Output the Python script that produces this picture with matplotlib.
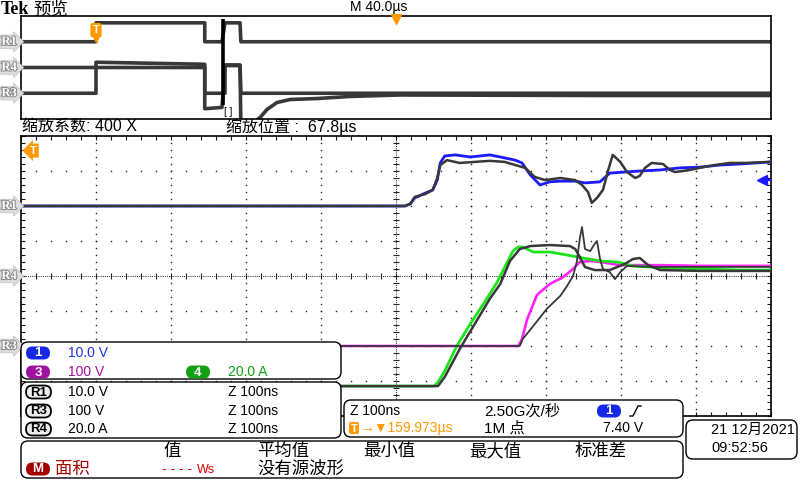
################################################ Import modules ########################################################

import numpy as np
import matplotlib
matplotlib.use('Agg')
import matplotlib.pyplot as plt
import matplotlib.patheffects as pe
import matplotlib.transforms as mtransforms
from matplotlib.patches import FancyBboxPatch

plt.rcParams['font.family'] = ['Liberation Sans', 'Noto Sans CJK SC', 'DejaVu Sans']

############################################### Scope settings #######################################

zoom_ns_div = 100        # Z 100ns
main_divs = 10
ov_us_div = 40.0         # M 40.0us
ch1_scale = 10.0         # V/div
ch3_scale = 100.0        # V/div
ch4_scale = 20.0         # A/div
pos_r1, pos_r4, pos_r3 = 2.0, 0.0, -2.0   # trace offsets in divisions
trig_level = 7.40        # V on ch1
trig_pos_us = 40.0       # trigger point from left edge of record
zoom_pos_us = 67.8
trig_time = '159.973µs'

##################################################### Zoom window data #################################################
# time in ns from the left edge of the zoom window

ch1_t = [0, 512, 519, 525, 539, 549, 555, 559, 565, 579, 599, 612, 625, 639, 659, 668, 679, 692, 705, 719,
         739, 752, 772, 785, 805, 825, 852, 879, 905, 932, 959, 1000]
ch1_v = [0.0, 0.0, 0.6, 2.3, 3.7, 4.6, 7.4, 12.3, 14.3, 14.6, 14.0, 14.3, 14.6, 14.0, 13.1, 12.3, 8.9, 6.0, 6.9, 7.1,
         7.1, 6.6, 6.9, 9.4, 9.7, 10.0, 10.3, 10.9, 11.1, 11.7, 12.0, 12.6]

r1_t = [0, 512, 519, 525, 539, 549, 555, 559, 568, 585, 605, 625, 645, 659, 672, 685, 699, 719, 739, 748,
        756, 761, 768, 776, 783, 789, 799, 808, 819, 825, 832, 841, 856, 865, 872, 892, 905, 925, 945, 965, 1000]
r1_v = [0.0, 0.0, 0.6, 2.6, 3.4, 4.6, 8.0, 11.7, 13.1, 12.3, 12.6, 12.9, 12.6, 11.7, 10.9, 8.3, 7.4, 8.0, 7.4, 6.0,
        4.0, 0.9, 2.3, 4.6, 10.3, 14.6, 12.6, 9.7, 8.0, 8.6, 10.9, 12.3, 12.0, 10.3, 9.7, 10.3, 10.9, 11.7, 12.3,
        12.3, 12.6]

ch3_t = [0, 663, 668, 675, 688, 705, 723, 736, 745, 759, 772, 799, 852, 905, 1000]
ch3_v = [0, 0, 20, 77, 146, 177, 197, 220, 240, 243, 240, 231, 231, 229, 229]

r3_t = [0, 665, 669, 683, 701, 719, 728, 736, 741, 745, 748, 752, 759, 764, 768, 772, 776, 785, 792, 799,
        808, 839, 1000]
r3_v = [0, 0, 20, 57, 106, 143, 171, 200, 240, 306, 340, 277, 271, 289, 300, 249, 220, 211, 191, 211,
        229, 226, 226]

ch4_t = [0, 551, 556, 565, 581, 599, 612, 625, 635, 645, 656, 663, 669, 683, 705, 728, 749, 772, 795, 816,
         839, 861, 905, 959, 1000]
ch4_a = [-62.9, -62.9, -60.6, -54.3, -40.0, -27.4, -18.9, -10.3, -3.4, 5.1, 14.3, 16.6, 16.6, 13.7, 13.7, 12.0,
         10.3, 8.6, 8.0, 5.7, 5.1, 4.0, 4.0, 3.4, 3.4]

r4_t = [0, 556, 565, 585, 605, 625, 639, 652, 665, 679, 705, 732, 739, 745, 752, 765, 785, 805, 816, 825,
        836, 852, 905, 1000]
r4_a = [-62.9, -62.9, -57.7, -41.7, -27.4, -13.1, -4.6, 8.6, 15.4, 17.1, 17.7, 17.1, 15.4, 10.9, 5.1, 3.4,
        3.4, 6.9, 9.7, 10.3, 6.3, 3.4, 2.9, 2.9]

##################################################### Overview (preview) data ##########################################
# time in us from the left edge of the record

ov_r1_t = [0, 40, 40, 98, 98, 107.2, 108.8, 116.8, 117.3, 400]
ov_r1_v = [0, 0, 14.7, 14.7, 0, 0, 14.7, 14.7, 0, 0]

ov_r3_t = [0, 40, 40, 98, 98, 108.8, 108.8, 116.8, 117.3, 400]
ov_r3_v = [0, 0, 241, 225, 0, 0, 220, 220, 0, 0]

ov_r4_t = [0, 98, 98, 107.2, 108.8, 116.8, 117.3, 127.5, 131.2, 136.5, 143.5, 157.9, 175.5, 202, 309, 400]
ov_r4_a = [0, 0, -64, -62, 3, 3, -100, -77.7, -65.2, -54.4, -49.7, -48.2, -45, -42.7, -43.5, -43.5]

###################################################### Colours #########################################################

c_ref = '#383838'
c_ch1, c_ch3, c_ch4 = '#1a1aff', '#ff22ff', '#1be41b'
p_ch1, p_ch3, p_ch4, p_m = '#1428e6', '#a212a2', '#12a012', '#a50000'
t_ch1, t_ch3, t_ch4 = '#1e32e6', '#a012a0', '#14a014'
orange = '#ff9900'

###################################################### Figure ##########################################################

W, H = 800, 480
fig = plt.figure(figsize=(8, 4.8), dpi=100, facecolor='white')


def fig_rect(x0, y0, x1, y1):
    return [x0 / W, 1 - y1 / H, (x1 - x0) / W, (y1 - y0) / H]


def div(vals, scale, pos):
    return np.asarray(vals, dtype=float) / scale + pos


ax = fig.add_axes(fig_rect(21, 136, 771, 416))
ov = fig.add_axes(fig_rect(21, 16, 771, 119))
top = fig.add_axes([0, 0, 1, 1])
top.set_xlim(0, W)
top.set_ylim(H, 0)
top.axis('off')
top.set_zorder(5)

################################################### Main graticule #####################################################

span = main_divs * zoom_ns_div
ax.set_xlim(0, span)
ax.set_ylim(-4, 4)
ax.set_xticks(np.arange(0, span + 1, zoom_ns_div))
ax.set_xticks(np.arange(0, span + 1, zoom_ns_div / 5), minor=True)
ax.set_yticks(np.arange(-4, 4.01, 1))
ax.set_yticks(np.arange(-4, 4.01, 0.2), minor=True)
ax.tick_params(which='both', direction='in', length=3, width=0.8, top=True, right=True,
               labelbottom=False, labelleft=False, color='#111111')
for sp in ax.spines.values():
    sp.set_linewidth(1.2)

ys_minor = np.arange(-4, 4.01, 0.2)
xs_minor = np.arange(0, span + 1, zoom_ns_div / 5)
for xv in np.arange(zoom_ns_div, span, zoom_ns_div):
    if xv == span / 2:
        continue
    ax.plot(np.full_like(ys_minor, xv), ys_minor, ls='none', marker='s', ms=1.0, mew=0, color='#222222', zorder=1)
for yv in range(-3, 4):
    if yv == 0:
        continue
    ax.plot(xs_minor, np.full_like(xs_minor, yv), ls='none', marker='s', ms=1.0, mew=0, color='#222222', zorder=1)
# centre cross
ax.axvline(span / 2, ls=(0, (1, 1.2)), lw=0.7, color='#222222', zorder=1)
ax.axhline(0, ls=(0, (1, 1.2)), lw=0.7, color='#222222', zorder=1)
ax.plot(np.full_like(ys_minor, span / 2), ys_minor, ls='none', marker='_', ms=4, mew=0.8, color='#222222', zorder=1)
ax.plot(xs_minor, np.zeros_like(xs_minor), ls='none', marker='|', ms=4, mew=0.8, color='#222222', zorder=1)

################################################### Main traces ########################################################

ax.plot(ch1_t, div(ch1_v, ch1_scale, pos_r1), color=c_ch1, lw=2.0, zorder=3)
ax.plot(ch3_t, div(ch3_v, ch3_scale, pos_r3), color=c_ch3, lw=1.9, zorder=3)
ax.plot(ch4_t, div(ch4_a, ch4_scale, pos_r4), color=c_ch4, lw=2.0, zorder=3)
ax.plot(r1_t, div(r1_v, ch1_scale, pos_r1), color=c_ref, lw=1.8, zorder=4)
ax.plot(r3_t, div(r3_v, ch3_scale, pos_r3), color=c_ref, lw=1.3, zorder=4)
ax.plot(r4_t, div(r4_a, ch4_scale, pos_r4), color=c_ref, lw=1.8, zorder=4)

# trigger level arrow (right) and trigger marker (left, off screen)
lev = trig_level / ch1_scale + pos_r1
ax.plot([span * 0.988, span], [lev, lev], color=c_ch1, lw=1.5, clip_on=False, zorder=6)
ax.plot([span * 0.988], [lev], marker='<', ms=7, color=c_ch1, clip_on=False, zorder=6)
ax.text(0.012, 0.948, 'T', transform=ax.transAxes, ha='left', va='center', color='white', fontsize=8,
        fontweight='bold', bbox=dict(boxstyle='larrow,pad=0.18', fc=orange, ec='none'), zorder=6)

################################################### Overview ###########################################################

ov.set_xlim(0, 10 * ov_us_div)
ov.set_ylim(-4, 4)
ov.set_xticks([])
ov.set_yticks([])
for sp in ov.spines.values():
    sp.set_linewidth(1.2)
ov.plot(ov_r1_t, div(ov_r1_v, ch1_scale, pos_r1), color=c_ref, lw=2.6)
ov.plot(ov_r3_t, div(ov_r3_v, ch3_scale, pos_r3), color=c_ref, lw=2.6)
ov.plot(ov_r4_t, div(ov_r4_a, ch4_scale, pos_r4), color=c_ref, lw=2.6)

zt = trig_pos_us + zoom_pos_us
ov.plot([zt, zt], [-2.9, 3.75], color='black', lw=2.6, solid_capstyle='butt', zorder=5)
ov.text(zt + 0.5, -3.45, '[ ]', ha='left', va='center', fontsize=7, zorder=5)
ov.text(trig_pos_us, 2.9, 'T', ha='center', va='center', color='white', fontsize=8, fontweight='bold',
        bbox=dict(boxstyle='round,pad=0.2', fc=orange, ec='none'), zorder=6)
ov.plot([trig_pos_us], [2.25], marker='v', ms=4, color=orange, zorder=6)
ov.plot([5 * ov_us_div], [3.8], marker='v', ms=7, color=orange, clip_on=False, zorder=6)

#################################################### Reference tags (left) #############################################

tag_kw = dict(ha='left', va='center', color='white', fontsize=9, fontweight='bold', fontfamily='Liberation Serif',
              bbox=dict(boxstyle='rarrow,pad=0.06', fc='#dedede', ec='#c0c0c0', lw=0.5),
              path_effects=[pe.withStroke(linewidth=1.5, foreground='#8a8a8a')], zorder=2)
for a in (ax, ov):
    trans = mtransforms.blended_transform_factory(top.transData, a.transData)
    for name, pos in (('R1', pos_r1), ('R4', pos_r4), ('R3', pos_r3)):
        top.text(1.5, pos, name, transform=trans, **tag_kw)

#################################################### Header texts ######################################################

top.text(1, 9, 'Tek', fontfamily='Liberation Serif', fontweight='bold', fontsize=13, va='center', ha='left')
top.text(33, 9, '预览', fontsize=12.5, va='center', ha='left')
top.text(350, 7, f'M {ov_us_div:.1f}µs', fontsize=10, va='center', ha='left')
top.text(22, 127, f'缩放系数: {ov_us_div * 1000 / zoom_ns_div:.0f} X', fontsize=11.5, va='center', ha='left')
top.text(226, 127, f'缩放位置 :  {zoom_pos_us:.1f}µs', fontsize=11.5, va='center', ha='left')

#################################################### Info boxes ########################################################


def rbox(x0, y0, x1, y1, r=7, fc='white', ec='black', lw=1.0):
    top.add_patch(FancyBboxPatch((x0, y0), x1 - x0, y1 - y0, boxstyle=f'round,pad=0,rounding_size={r}',
                                 fc=fc, ec=ec, lw=lw, zorder=3))


def pill(x0, yc, label, fc, w=24, h=13, txt='white', ec='none'):
    rbox(x0, yc - h / 2, x0 + w, yc + h / 2, r=h / 2, fc=fc, ec=ec, lw=1.3)
    top.text(x0 + w / 2, yc + 0.5, label, ha='center', va='center', color=txt, fontsize=9.5, fontweight='bold',
             zorder=4)


def txt(x, y, s, color='black', size=10):
    top.text(x, y, s, ha='left', va='center', color=color, fontsize=size, zorder=4)


rbox(21, 342, 341, 379)
rbox(21, 382, 341, 438)
rbox(21, 441, 683, 478)
rbox(344, 400, 683, 437)
rbox(686, 420, 797, 459)

# channel settings
pill(26, 353, '1', p_ch1)
txt(68, 353, f'{ch1_scale:.1f} V', t_ch1)
pill(26, 372, '3', p_ch3)
txt(68, 372, f'{ch3_scale:.0f} V', t_ch3)
pill(186, 372, '4', p_ch4)
txt(228, 372, f'{ch4_scale:.1f} A', t_ch4)

# reference settings
for yc, name, s in ((392, 'R1', f'{ch1_scale:.1f} V'), (411, 'R3', f'{ch3_scale:.0f} V'),
                    (429, 'R4', f'{ch4_scale:.1f} A')):
    pill(26, yc, name, '#ececec', w=25, txt='black', ec='black')
    txt(68, yc, s)
    txt(228, yc, f'Z {zoom_ns_div}ns')

# measurement table
for x, s in ((163, '值'), (257, '平均值'), (363, '最小值'), (469, '最大值'), (575, '标准差')):
    txt(x, 451, s, size=12.5)
pill(26, 469, 'M', p_m)
txt(55, 469, '面积', p_m, size=12.5)
txt(162, 469, '- - - -', '#d00000', size=10)
txt(197, 470, 'Ws', '#d00000', size=9)
txt(257, 469, '没有源波形', size=12.5)

# timebase / trigger
txt(350, 411, f'Z {zoom_ns_div}ns')
txt(484, 411, '2.50G次/秒', size=11)
pill(597, 411, '1', p_ch1)
top.plot([630, 633, 638, 641], [416, 416, 406, 406], color='black', lw=1.0, zorder=4)
rbox(349, 422, 359, 434, r=2, fc=orange, ec='none')
top.text(354, 428.5, 'T', ha='center', va='center', color='white', fontsize=8, fontweight='bold', zorder=4)
txt(360, 428, '→▼' + trig_time, orange)
txt(484, 428, '1M 点', size=11)
txt(603, 428, f'{trig_level:.2f} V')

# date / time
txt(711, 430, '21 12月2021', size=10.5)
txt(711, 448, '09:52:56', size=10.5)

fig.savefig('out.png', dpi=100, facecolor='white')
